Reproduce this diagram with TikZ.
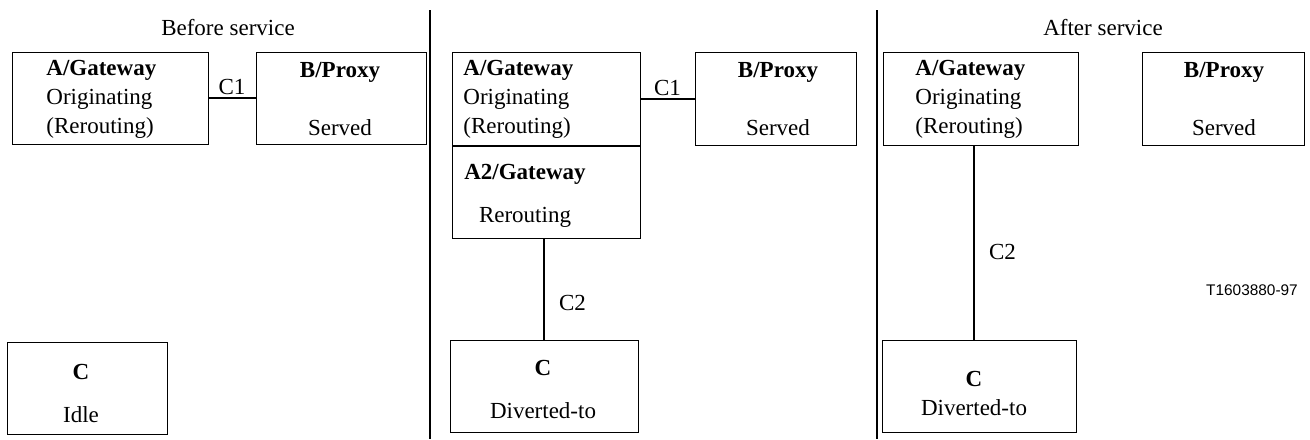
\documentclass[tikz,border=0pt]{standalone}
\usepackage{fontspec}
\setmainfont{Liberation Serif}
\newfontfamily\tagfont{Liberation Sans}
\tikzset{every picture/.style={/utils/exec={\fontsize{11.5}{14.5}\selectfont}}}
\usetikzlibrary{positioning}
\tikzset{
  party/.style={draw, line width=0.5pt, inner sep=0pt, minimum height=46pt},
  txt/.style={inner sep=0pt, align=center},
  link/.style={line width=1pt},
  divider/.style={line width=1.1pt},
}

\begin{document}
\begin{tikzpicture}[x=0.5pt, y=-0.5pt]
  \useasboundingbox (0,0) rectangle (1310,439);

  % before service
  \node [txt] (titlebefore) at (228,28) {Before service};
  \node [party, minimum width=98pt] (gwbefore) at (110,98) {};
  \node [party, minimum width=85pt] (proxybefore) at (341,98) {};
  \node [party, minimum width=80pt] (cbefore) at (87,388) {};
  \node [txt, align=left, anchor=west] (gwbeforetxt) at (46,99) {\textbf{A/Gateway}\\Originating\\(Rerouting)};
  \node [txt] (proxybeforetxt) at (340,99) {\textbf{B/Proxy}\\[14.5pt]Served};
  \node [txt] (cbeforetxt) at (81,393) {\textbf{C}\\[7pt]Idle};
  \draw [link] (gwbefore) -- node [above=1pt, inner sep=0pt] {C1} (proxybefore);

  \draw [divider] (430,10) -- (430,439);

  % during service
  \node [party, minimum width=94pt, minimum height=46.5pt] (gwduring) at (546,98.5) {};
  \node [party, minimum width=94pt, below=0pt of gwduring] (gwtwoduring) {};
  \node [party, minimum width=80.5pt, minimum height=46.5pt] (proxyduring) at (775.5,98.5) {};
  \node [party, minimum width=94pt] (cduring) at (544,386) {};
  \node [txt, align=left, anchor=west] (gwduringtxt) at (463,99) {\textbf{A/Gateway}\\Originating\\(Rerouting)};
  \node [txt] (gwtwoduringtxt) at (525,196) {\textbf{A2/Gateway}\\[7pt]Rerouting};
  \node [txt] (proxyduringtxt) at (778,99) {\textbf{B/Proxy}\\[14.5pt]Served};
  \node [txt] (cduringtxt) at (543,389) {\textbf{C}\\[7pt]Diverted-to};
  \draw [link] (gwduring) -- node [above=1pt, inner sep=0pt] {C1} (proxyduring);
  \draw [link] (cduring.north) -- node [pos=0.36, right=7pt, inner sep=0pt] {C2} (cduring.north |- gwtwoduring.south);

  \draw [divider] (877,10) -- (877,439);

  % after service
  \node [txt] (titleafter) at (1103,28) {After service};
  \node [party, minimum width=97.5pt, minimum height=46.5pt] (gwafter) at (980.5,98.5) {};
  \node [party, minimum width=81pt, minimum height=46.5pt] (proxyafter) at (1223,98.5) {};
  \node [party, minimum width=97pt] (cafter) at (979,386) {};
  \node [txt, align=left, anchor=west] (gwaftertxt) at (915,99) {\textbf{A/Gateway}\\Originating\\(Rerouting)};
  \node [txt] (proxyaftertxt) at (1224,99) {\textbf{B/Proxy}\\[14.5pt]Served};
  \node [txt] (caftertxt) at (974,393) {\textbf{C}\\Diverted-to};
  \draw [link] ([xshift=-2.5pt]cafter.north) -- node [pos=0.45, right=7pt, inner sep=0pt] {C2} ([xshift=-2.5pt]cafter.north |- gwafter.south);

  \node [txt, font=\tagfont\fontsize{7.7}{9}\selectfont] (tag) at (1252,290) {T1603880-97};
\end{tikzpicture}
\end{document}
